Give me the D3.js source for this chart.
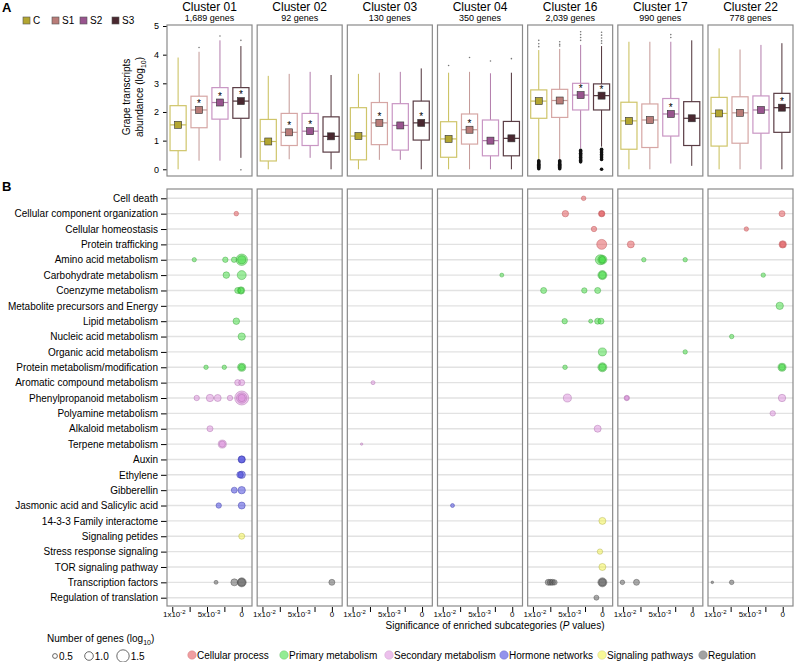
<!DOCTYPE html>
<html>
<head>
<meta charset="utf-8">
<script src="https://cdn.jsdelivr.net/npm/d3@7"></script>
<style>
	body { margin: 0; background: #fff; }
	svg { font-family: 'Liberation Sans', Arial, sans-serif; }
</style>
</head>
<body>
<svg id="chart" width="795" height="662"></svg>
<script>
var clusters = ['Cluster 01', 'Cluster 02', 'Cluster 03', 'Cluster 04', 'Cluster 16', 'Cluster 17', 'Cluster 22'];
var geneCounts = ['1,689 genes', '92 genes', '130 genes', '350 genes', '2,039 genes', '990 genes', '778 genes'];
var stages = ['C', 'S1', 'S2', 'S3'];

// [min, q1, median, q3, max, mean, star] for C, S1, S2, S3
var boxStats = [
	[[0, 0.65, 1.55, 2.22, 3.9, 1.55, 0], [0.3, 1.45, 2.07, 2.55, 4.1, 2.07, 1], [0.3, 1.75, 2.33, 2.85, 4.5, 2.33, 1], [0.4, 1.78, 2.38, 2.85, 4.3, 2.38, 1]],
	[[0, 0.29, 0.97, 1.74, 3.26, 0.97, 0], [0.35, 0.83, 1.29, 1.95, 3.33, 1.29, 1], [0.4, 0.83, 1.33, 1.95, 3.4, 1.33, 1], [0, 0.6, 1.15, 1.83, 3.29, 1.15, 0]],
	[[0, 0.33, 1.16, 2.15, 3.33, 1.16, 0], [0.33, 0.86, 1.62, 2.33, 3.37, 1.62, 1], [0.33, 0.67, 1.53, 2.29, 3.4, 1.53, 0], [0, 1.02, 1.62, 2.38, 3.52, 1.62, 1]],
	[[0, 0.42, 1.06, 1.66, 3.37, 1.06, 0], [0, 0.88, 1.38, 1.93, 3.4, 1.38, 1], [0, 0.47, 1.0, 1.72, 3.35, 1.0, 0], [0, 0.47, 1.08, 1.67, 3.37, 1.08, 0]],
	[[0.34, 1.78, 2.38, 2.77, 4.16, 2.38, 0], [0.36, 1.81, 2.4, 2.79, 4.2, 2.4, 0], [0.73, 2.07, 2.59, 3.0, 4.34, 2.59, 1], [0.79, 2.07, 2.57, 2.98, 4.3, 2.57, 1]],
	[[0, 0.7, 1.69, 2.34, 4.45, 1.69, 0], [0, 0.76, 1.72, 2.28, 4.45, 1.72, 0], [0.2, 1.16, 1.93, 2.47, 4.45, 1.93, 1], [0.12, 0.83, 1.78, 2.36, 4.5, 1.78, 0]],
	[[0, 0.81, 1.95, 2.51, 4.22, 1.95, 0], [0, 0.91, 1.97, 2.53, 4.18, 1.97, 0], [0, 1.26, 2.07, 2.56, 4.34, 2.07, 0], [0, 1.29, 2.15, 2.65, 4.4, 2.15, 1]]
];

var boxOutliers = [
	[[], [4.25], [4.65], [4.5, -0.02]],
	[[], [], [], []],
	[[], [], [], []],
	[[3.62], [3.9], [3.78], [3.86]],
	[[4.5, 4.38, 4.28, 0.3, 0.26, 0.22, 0.18, 0.14, 0.1, 0.06, 0.02], [4.45, 4.36, 4.3, 0.3, 0.26, 0.22, 0.18, 0.14, 0.1, 0.06, 0.02], [4.8, 4.7, 4.6, 4.5, 0.66, 0.61, 0.56, 0.51, 0.46, 0.41, 0.36, 0.31, 0.26], [4.78, 4.68, 4.58, 4.48, 4.4, 0.7, 0.64, 0.58, 0.52, 0.46, 0.4, 0.34, 0.0]],
	[[], [], [4.7, 4.6], []],
	[[], [], [], []]
];

var categories = ['Cell death', 'Cellular component organization', 'Cellular homeostasis', 'Protein trafficking',
	'Amino acid metabolism', 'Carbohydrate metabolism', 'Coenzyme metabolism', 'Metabolite precursors and Energy',
	'Lipid metabolism', 'Nucleic acid metabolism', 'Organic acid metabolism', 'Protein metabolism/modification',
	'Aromatic compound metabolism', 'Phenylpropanoid metabolism', 'Polyamine metabolism', 'Alkaloid metabolism',
	'Terpene metabolism', 'Auxin', 'Ethylene', 'Gibberellin', 'Jasmonic acid and Salicylic acid',
	'14-3-3 Family interactome', 'Signaling petides', 'Stress response signaling', 'TOR signaling pathway',
	'Transcription factors', 'Regulation of translation'];
var groups = ['Cellular process', 'Primary metabolism', 'Secondary metabolism', 'Hormone networks', 'Signaling pathways', 'Regulation'];
var groupOfRow = [0, 0, 0, 0, 1, 1, 1, 1, 1, 1, 1, 1, 2, 2, 2, 2, 2, 3, 3, 3, 3, 4, 4, 4, 4, 5, 5];

// [cluster, row, P value, number of genes (log10)]
var bubbles = [
	[0, 1, 0.00078, 0.34],
	[0, 4, 0.00683, 0.3], [0, 4, 0.00236, 0.45], [0, 4, 0.0011, 0.45], [0, 4, 0, 1.24], [0, 4, 0, 0.8],
	[0, 5, 0.00222, 0.6], [0, 5, 0, 0.92],
	[0, 6, 0.00058, 0.53], [0, 6, 0.0001, 0.7], [0, 6, 0.0001, 0.5],
	[0, 8, 0.00078, 0.6],
	[0, 9, 0, 0.7],
	[0, 11, 0.00514, 0.32], [0, 11, 0.00251, 0.32], [0, 11, 0, 0.8], [0, 11, 0, 0.55],
	[0, 12, 0.00058, 0.53], [0, 12, 0, 0.53],
	[0, 13, 0.00648, 0.45], [0, 13, 0.00457, 0.71], [0, 13, 0.00346, 0.66], [0, 13, 0.00169, 0.45], [0, 13, 0, 1.58], [0, 13, 0, 1.1], [0, 13, 0, 0.7],
	[0, 15, 0.00457, 0.53],
	[0, 16, 0.0028, 0.8], [0, 16, 0.0028, 0.55],
	[0, 17, 0, 0.7], [0, 17, 0, 0.6],
	[0, 18, 0.00024, 0.6], [0, 18, 0, 0.71],
	[0, 19, 0.00107, 0.53], [0, 19, 0, 0.71],
	[0, 20, 0.00331, 0.45], [0, 20, 0, 0.66],
	[0, 22, 0, 0.53],
	[0, 25, 0.0037, 0.26], [0, 25, 0.00106, 0.66], [0, 25, 0, 0.92], [0, 25, 0, 0.75],
	[1, 25, 0, 0.53],
	[2, 12, 0.00706, 0.26], [2, 16, 0.0087, 0.05],
	[3, 5, 0.0015, 0.26], [3, 20, 0.0086, 0.26],
	[4, 0, 0.0027, 0.34],
	[4, 1, 0.00533, 0.58], [4, 1, 0.0001, 0.58], [4, 1, 0.0001, 0.45],
	[4, 2, 0.00121, 0.45],
	[4, 3, 0.0001, 1.05],
	[4, 4, 0.0003, 1.05], [4, 4, 0, 0.92], [4, 4, 0, 0.6],
	[4, 5, 0, 0.92], [4, 5, 0, 0.7],
	[4, 6, 0.00846, 0.53], [4, 6, 0.0026, 0.45], [4, 6, 0.00068, 0.53],
	[4, 8, 0.00543, 0.45], [4, 8, 0.00169, 0.26], [4, 8, 0.00068, 0.53], [4, 8, 0.0002, 0.53],
	[4, 10, 0, 0.79],
	[4, 11, 0.00538, 0.34], [4, 11, 0, 0.92], [4, 11, 0, 0.65],
	[4, 13, 0.00504, 0.79],
	[4, 15, 0.00068, 0.66],
	[4, 21, 0, 0.66],
	[4, 23, 0.00035, 0.45],
	[4, 24, 0, 0.66],
	[4, 25, 0.0078, 0.53], [4, 25, 0.0075, 0.53], [4, 25, 0.0072, 0.53], [4, 25, 0.0069, 0.45], [4, 25, 0, 0.92], [4, 25, 0, 0.7],
	[4, 26, 0.00086, 0.4],
	[5, 3, 0.00889, 0.66],
	[5, 4, 0.00702, 0.32], [5, 4, 0.00106, 0.32],
	[5, 10, 0.00106, 0.32],
	[5, 13, 0.00947, 0.45], [5, 13, 0.00947, 0.3],
	[5, 25, 0.0101, 0.34], [5, 25, 0.00807, 0.53],
	[6, 1, 0.0001, 0.53],
	[6, 2, 0.00524, 0.32],
	[6, 3, 0, 0.71], [6, 3, 0, 0.5],
	[6, 5, 0.0028, 0.32],
	[6, 7, 0.00043, 0.71],
	[6, 9, 0.00735, 0.32],
	[6, 11, 0.0001, 0.79], [6, 11, 0.0001, 0.55],
	[6, 13, 0.0001, 0.71],
	[6, 14, 0.00144, 0.45],
	[6, 25, 0.01014, 0.08], [6, 25, 0.00735, 0.34]
];

var pTicks = [0.01, 0.0075, 0.005, 0.0025, 0];
var sizeLegend = [0.5, 1.0, 1.5];

var stageFill = ['#b3a631', '#b97c78', '#98548e', '#4a2830'];
var stageStroke = ['#cfc56a', '#d6a6a4', '#c996c4', '#5a3c44'];
var stageWhisker = ['#c8be58', '#c49896', '#b27cab', '#4f3239'];
var groupFill = ['#e24f53', '#3ddc3d', '#dc8ddc', '#3c3cdc', '#f2f244', '#555555'];
var groupStroke = ['#b84a4e', '#2f9a2f', '#a76aa7', '#3030a0', '#a8a840', '#444444'];

var svg = d3.select('#chart');

var panelX = d3
	.scaleBand()
	.domain(clusters)
	.range([167, 793])
	.paddingInner(0.0573);

var stageX = d3
	.scaleBand()
	.domain(stages)
	.range([0, panelX.bandwidth()])
	.paddingInner(0.23)
	.paddingOuter(0.145);

var yBox = d3
	.scaleLinear()
	.domain([-0.234, 5.035])
	.range([176, 25]);

var yRow = d3
	.scalePoint()
	.domain(categories)
	.range([198.3, 597.7]);

var xP = d3
	.scaleLinear()
	.domain([0.01076, -0.00148])
	.range([0, panelX.bandwidth()]);

var rSize = d3
	.scaleLinear()
	.domain([0, 1.5])
	.range([1, 6.7]);

var bTop = 189, bBottom = 606;

//PANEL LETTERS
svg.append('text').attr('x', 2).attr('y', 12).style('font-size', '13px').style('font-weight', 'bold').text('A');
svg.append('text').attr('x', 2).attr('y', 191).style('font-size', '13px').style('font-weight', 'bold').text('B');

//STAGE LEGEND
var stageLegendX = [23, 52, 80, 112];
var sl = svg
	.selectAll('.stageLegend')
	.data(stages)
	.enter()
	.append('g')
	.attr('class', 'stageLegend')
	.attr('transform', function(d, i){ return 'translate(' + stageLegendX[i] + ',17)'; });
sl
	.append('rect')
	.attr('width', 7)
	.attr('height', 7)
	.attr('fill', function(d, i){ return stageFill[i]; })
	.attr('stroke', '#555')
	.attr('stroke-width', 0.6);
sl
	.append('text')
	.attr('x', 10)
	.attr('y', 7)
	.style('font-size', '10px')
	.text(function(d){ return d; });

//Y AXIS LABEL PANEL A
svg.append('text')
	.attr('transform', 'translate(130,97) rotate(-90)')
	.attr('text-anchor', 'middle')
	.style('font-size', '10px')
	.text('Grape transcripts');
var yl = svg.append('text')
	.attr('transform', 'translate(143,97) rotate(-90)')
	.attr('text-anchor', 'middle')
	.style('font-size', '10px');
yl.append('tspan').text('abundance (log');
yl.append('tspan').attr('dy', 3).style('font-size', '7px').text('10');
yl.append('tspan').attr('dy', -3).text(')');

//Y AXES
svg.append('g')
	.attr('transform', 'translate(167,0)')
	.call(d3.axisLeft(yBox).tickValues([0, 1, 2, 3, 4, 5]).tickFormat(d3.format('d')).tickSize(4).tickPadding(4))
	.call(function(g){ g.select('.domain').remove(); })
	.selectAll('text')
	.style('font-size', '9px')
	.style('font-family', "'Liberation Sans', Arial, sans-serif");

svg.append('g')
	.attr('transform', 'translate(167,0)')
	.call(d3.axisLeft(yRow).tickSize(6).tickPadding(3))
	.call(function(g){ g.select('.domain').remove(); })
	.selectAll('text')
	.style('font-size', '10px')
	.style('font-family', "'Liberation Sans', Arial, sans-serif");

//SET THE PANELS
clusters.map(function(cl, ci){
	var x0 = panelX(cl);
	var w = panelX.bandwidth();

	svg.append('text')
		.attr('x', x0 + w / 2)
		.attr('y', 11)
		.attr('text-anchor', 'middle')
		.style('font-size', '12px')
		.text(cl);
	svg.append('text')
		.attr('x', x0 + w / 2)
		.attr('y', 21)
		.attr('text-anchor', 'middle')
		.style('font-size', '9px')
		.text(geneCounts[ci]);

	// BOX PLOTS
	var gA = svg.append('g').attr('transform', 'translate(' + x0 + ',0)');
	var bw = stageX.bandwidth();
	boxStats[ci].map(function(s, si){
		var cx = stageX(stages[si]) + bw / 2;
		gA.append('line')
			.attr('x1', cx).attr('x2', cx)
			.attr('y1', yBox(s[0])).attr('y2', yBox(s[4]))
			.attr('stroke', stageWhisker[si])
			.attr('stroke-width', 1);
		var dense = boxOutliers[ci][si].length > 6;
		gA.selectAll('.out' + si)
			.data(boxOutliers[ci][si])
			.enter()
			.append('circle')
			.attr('cx', cx)
			.attr('cy', function(d){ return yBox(d); })
			.attr('r', function(d){ return (dense && d < 1) ? 1.8 : 0.8; })
			.attr('fill', function(d){ return (dense && d < 1) ? '#111' : '#777'; });
		gA.append('rect')
			.attr('x', stageX(stages[si]))
			.attr('y', yBox(s[3]))
			.attr('width', bw)
			.attr('height', yBox(s[1]) - yBox(s[3]))
			.attr('fill', '#fff')
			.attr('stroke', stageStroke[si])
			.attr('stroke-width', 1.2);
		gA.append('line')
			.attr('x1', stageX(stages[si])).attr('x2', stageX(stages[si]) + bw)
			.attr('y1', yBox(s[2])).attr('y2', yBox(s[2]))
			.attr('stroke', stageWhisker[si])
			.attr('stroke-width', 1.2);
		gA.append('rect')
			.attr('x', cx - 3.5)
			.attr('y', yBox(s[5]) - 3.5)
			.attr('width', 7)
			.attr('height', 7)
			.attr('fill', stageFill[si])
			.attr('stroke', '#333')
			.attr('stroke-width', 0.6);
		if (s[6]) {
			gA.append('text')
				.attr('x', cx)
				.attr('y', yBox(s[5]) - 3)
				.attr('text-anchor', 'middle')
				.style('font-size', '10px')
				.text('*');
		}
	});
	gA.append('rect')
		.attr('x', 0).attr('y', 25)
		.attr('width', w).attr('height', 151)
		.attr('fill', 'none')
		.attr('stroke', '#8a8a8a')
		.attr('stroke-width', 1.2);

	// BUBBLES
	var gB = svg.append('g').attr('transform', 'translate(' + x0 + ',0)');
	gB.selectAll('.grid')
		.data(categories)
		.enter()
		.append('line')
		.attr('class', 'grid')
		.attr('x1', 0).attr('x2', w)
		.attr('y1', function(d){ return yRow(d); })
		.attr('y2', function(d){ return yRow(d); })
		.attr('stroke', '#e2e2e2')
		.attr('stroke-width', 1.4);
	gB.selectAll('.bubble')
		.data(bubbles.filter(function(b){ return b[0] == ci; }).sort(function(a, b){ return b[3] - a[3]; }))
		.enter()
		.append('circle')
		.attr('class', 'bubble')
		.attr('cx', function(d){ return xP(d[2]); })
		.attr('cy', function(d){ return yRow(categories[d[1]]); })
		.attr('r', function(d){ return rSize(d[3]); })
		.attr('fill', function(d){ return groupFill[groupOfRow[d[1]]]; })
		.attr('fill-opacity', 0.5)
		.attr('stroke', function(d){ return groupStroke[groupOfRow[d[1]]]; })
		.attr('stroke-opacity', 0.6)
		.attr('stroke-width', 0.7);
	gB.append('rect')
		.attr('x', 0).attr('y', bTop)
		.attr('width', w).attr('height', bBottom - bTop)
		.attr('fill', 'none')
		.attr('stroke', '#8a8a8a')
		.attr('stroke-width', 1.2);

	// X AXIS
	var ax = gB.append('g')
		.attr('transform', 'translate(0,' + (bBottom + 1) + ')')
		.call(d3.axisBottom(xP).tickValues(pTicks).tickSize(5).tickFormat(function(){ return ''; }));
	ax.select('.domain').remove();
	[[0.01, '1x10', '-2'], [0.005, '5x10', '-3'], [0, '0', '']].map(function(t){
		var tx = gB.append('text')
			.attr('x', xP(t[0]) + (t[2] ? 2 : 0))
			.attr('y', bBottom + 11)
			.attr('text-anchor', 'middle')
			.style('font-size', '8px');
		tx.append('tspan').text(t[1]);
		if (t[2]) tx.append('tspan').attr('dy', -3).style('font-size', '6px').text(t[2]);
	});
});

//X AXIS TITLE
var xt = svg.append('text')
	.attr('x', 495)
	.attr('y', 629)
	.attr('text-anchor', 'middle')
	.style('font-size', '10px');
xt.append('tspan').text('Significance of enriched subcategories (');
xt.append('tspan').style('font-style', 'italic').text('P');
xt.append('tspan').text(' values)');

//SIZE LEGEND
var nt = svg.append('text')
	.attr('x', 47)
	.attr('y', 642)
	.style('font-size', '10px');
nt.append('tspan').text('Number of genes (log');
nt.append('tspan').attr('dy', 3).style('font-size', '7px').text('10');
nt.append('tspan').attr('dy', -3).text(')');

var sizeX = [55, 89, 123];
var sg = svg.selectAll('.sizeLegend')
	.data(sizeLegend)
	.enter()
	.append('g')
	.attr('class', 'sizeLegend')
	.attr('transform', function(d, i){ return 'translate(' + sizeX[i] + ',656)'; });
sg.append('circle')
	.attr('r', function(d){ return rSize(d) - 0.5; })
	.attr('fill', 'none')
	.attr('stroke', '#444')
	.attr('stroke-width', 0.8);
sg.append('text')
	.attr('x', function(d){ return rSize(d) + 1; })
	.attr('y', 3.5)
	.style('font-size', '10px')
	.text(function(d){ return d.toFixed(1); });

//GROUP LEGEND
var groupX = [192, 284, 389, 504, 602, 703];
var gl = svg.selectAll('.groupLegend')
	.data(groups)
	.enter()
	.append('g')
	.attr('class', 'groupLegend')
	.attr('transform', function(d, i){ return 'translate(' + groupX[i] + ',655)'; });
gl.append('circle')
	.attr('r', 4.3)
	.attr('fill', function(d, i){ return groupFill[i]; })
	.attr('fill-opacity', 0.55)
	.attr('stroke', function(d, i){ return groupStroke[i]; })
	.attr('stroke-opacity', 0.4)
	.attr('stroke-width', 0.6);
gl.append('text')
	.attr('x', 5)
	.attr('y', 3.5)
	.style('font-size', '10px')
	.text(function(d){ return d; });
</script>
</body>
</html>
